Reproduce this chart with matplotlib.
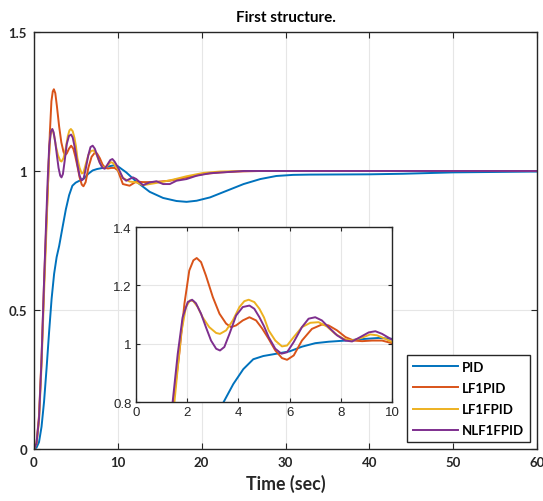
import matplotlib
matplotlib.use('Agg')
import matplotlib.pyplot as plt

# step responses
t_pid = [0, 0.3, 0.6, 0.9, 1.2, 1.5, 1.8, 2.1, 2.4, 2.7, 3.0, 3.42, 3.8, 4.19, 4.58,
         4.97, 5.49, 6.0, 6.48, 7.0, 7.52, 8.18, 8.83, 9.48, 10, 11, 12.2, 13.8,
         15.4, 17, 18.2, 19.4, 21, 23, 25, 27, 28.9, 30.9, 32.9, 40, 44, 50, 60]
y_pid = [0, 0.005, 0.025, 0.08, 0.17, 0.29, 0.42, 0.54, 0.63, 0.69, 0.73, 0.8, 0.862,
         0.913, 0.947, 0.958, 0.966, 0.974, 0.99, 1.002, 1.007, 1.011, 1.016, 1.02,
         1.017, 0.995, 0.962, 0.925, 0.903, 0.892, 0.889, 0.893, 0.905, 0.929, 0.953,
         0.971, 0.982, 0.986, 0.987, 0.988, 0.99, 0.995, 0.998]

t_lf1pid = [0, 0.3, 0.6, 0.9, 1.2, 1.46, 1.69, 1.89, 2.08, 2.24, 2.37, 2.54, 2.73,
            3.0, 3.26, 3.52, 3.71, 3.91, 4.17, 4.43, 4.69, 4.93, 5.18, 5.44, 5.70,
            5.90, 6.16, 6.48, 6.87, 7.26, 7.52, 7.85, 8.18, 8.5, 8.83, 9.22, 9.61, 10,
            10.6, 11.4, 12.2, 13, 14.2, 16.2, 18.2, 20.2, 22.2, 24.2, 27, 60]
y_lf1pid = [0, 0.02, 0.12, 0.33, 0.6, 0.8, 0.966, 1.137, 1.251, 1.286, 1.294, 1.28,
            1.234, 1.16, 1.103, 1.069, 1.057, 1.063, 1.08, 1.091, 1.08, 1.052, 1.017,
            0.977, 0.951, 0.945, 0.96, 1.011, 1.051, 1.066, 1.063, 1.046, 1.023, 1.011,
            1.009, 1.011, 1.011, 1.002, 0.953, 0.947, 0.962, 0.96, 0.96, 0.965, 0.977,
            0.989, 0.995, 0.998, 1.0, 1.0]

t_lf1fpid = [0, 0.3, 0.6, 0.9, 1.2, 1.5, 1.76, 1.95, 2.11, 2.24, 2.41, 2.6, 2.86,
             3.13, 3.28, 3.52, 3.78, 4.04, 4.23, 4.40, 4.62, 4.82, 5.0, 5.18, 5.44,
             5.70, 5.90, 6.16, 6.48, 6.81, 7.13, 7.46, 7.78, 8.11, 8.44, 8.83, 9.15,
             9.41, 9.74, 10, 10.6, 11.4, 12.2, 13, 13.8, 15, 16.6, 18.2, 20.2, 22.2,
             25, 60]
y_lf1fpid = [0, 0.02, 0.1, 0.3, 0.56, 0.8, 1.034, 1.126, 1.149, 1.146, 1.126, 1.091,
             1.057, 1.037, 1.034, 1.046, 1.08, 1.126, 1.146, 1.151, 1.143, 1.12, 1.09,
             1.046, 1.011, 0.991, 0.994, 1.023, 1.057, 1.072, 1.074, 1.059, 1.034,
             1.017, 1.011, 1.021, 1.032, 1.029, 1.017, 1.006, 0.975, 0.962, 0.959,
             0.949, 0.953, 0.959, 0.969, 0.981, 0.993, 0.998, 1.0, 1.0]

t_nlf1fpid = [0, 0.3, 0.6, 0.9, 1.2, 1.43, 1.63, 1.82, 2.02, 2.19, 2.34, 2.54, 2.73,
              2.93, 3.13, 3.28, 3.45, 3.65, 3.91, 4.17, 4.43, 4.62, 4.82, 5.0, 5.18,
              5.44, 5.68, 5.90, 6.16, 6.48, 6.74, 7.0, 7.26, 7.52, 7.85, 8.18, 8.44,
              8.76, 9.09, 9.35, 9.61, 10, 10.6, 11, 11.8, 12.2, 13, 13.8, 14.6, 15.4,
              16.2, 17, 18.2, 19.4, 21, 23, 25, 60]
y_nlf1fpid = [0, 0.02, 0.11, 0.32, 0.6, 0.8, 0.966, 1.091, 1.143, 1.151, 1.139, 1.103,
              1.057, 1.011, 0.983, 0.977, 0.989, 1.034, 1.097, 1.126, 1.131, 1.12,
              1.091, 1.06, 1.023, 0.983, 0.966, 0.971, 1.006, 1.057, 1.086, 1.091,
              1.08, 1.057, 1.029, 1.011, 1.008, 1.023, 1.039, 1.043, 1.034, 1.014,
              0.975, 0.965, 0.977, 0.971, 0.949, 0.959, 0.963, 0.953, 0.953, 0.965,
              0.971, 0.983, 0.992, 0.996, 1.0, 1.0]

labels = ['PID', 'LF1PID', 'LF1FPID', 'NLF1FPID']
colors = ['#0072BD', '#D95319', '#EDB120', '#7E2F8E']
series = [(t_pid, y_pid), (t_lf1pid, y_lf1pid), (t_lf1fpid, y_lf1fpid),
          (t_nlf1fpid, y_nlf1fpid)]

AX_COL = '#262626'
GRID_COL = '#e6e6e6'

fig = plt.figure(figsize=(5.43, 5.02), dpi=100)
fig.patch.set_facecolor('white')

ax = fig.add_axes([0.0626, 0.1036, 0.9264, 0.8307])
for (t, y), c, lab in zip(series, colors, labels):
    ax.plot(t, y, color=c, lw=1.4, label=lab)
ax.set_xlim(0, 60)
ax.set_ylim(0, 1.5)
ax.set_xticks([0, 10, 20, 30, 40, 50, 60])
ax.set_yticks([0, 0.5, 1, 1.5])
ax.set_yticklabels(['0', '0.5', '1', '1.5'])
ax.grid(True, color=GRID_COL, lw=0.8)
ax.set_axisbelow(True)
ax.tick_params(direction='in', top=True, right=True, length=4, color=AX_COL,
               labelcolor=AX_COL, labelsize=9.5, pad=5)
for lbl in ax.get_xticklabels() + ax.get_yticklabels():
    lbl.set_fontweight('bold')
    lbl.set_fontfamily('Lato')
for s in ax.spines.values():
    s.set_color(AX_COL)
    s.set_linewidth(1.0)
ax.set_xlabel('Time (sec)', fontsize=12.8, fontweight='bold', family='Lato',
              color=AX_COL, labelpad=4)
ax.set_title('First structure.', fontsize=11, fontweight='bold', family='Lato',
             color='black', pad=8)

leg = ax.legend(loc='lower right', handlelength=3.4, labelspacing=0.7,
                borderaxespad=0.5, fancybox=False, framealpha=1, edgecolor=AX_COL,
                borderpad=0.45, handletextpad=0.35,
                prop={'family': 'Lato', 'weight': 'bold', 'size': 9.5})
leg.get_frame().set_linewidth(1.0)

# zoomed inset
ins = fig.add_axes([0.2505, 0.197, 0.4715, 0.3486])
for (t, y), c in zip(series, colors):
    ins.plot(t, y, color=c, lw=1.4)
ins.set_xlim(0, 10)
ins.set_ylim(0.8, 1.4)
ins.set_xticks([0, 2, 4, 6, 8, 10])
ins.set_yticks([0.8, 1.0, 1.2, 1.4])
ins.set_yticklabels(['0.8', '1', '1.2', '1.4'])
ins.grid(True, color=GRID_COL, lw=0.8)
ins.set_axisbelow(True)
ins.tick_params(direction='in', top=True, right=True, length=3, color=AX_COL,
                labelcolor=AX_COL, labelsize=9.5, pad=3)
for lbl in ins.get_xticklabels() + ins.get_yticklabels():
    lbl.set_fontfamily('Liberation Sans')
for s in ins.spines.values():
    s.set_color(AX_COL)
    s.set_linewidth(1.0)

fig.savefig('out.png', dpi=100, facecolor='white')
plt.close()
